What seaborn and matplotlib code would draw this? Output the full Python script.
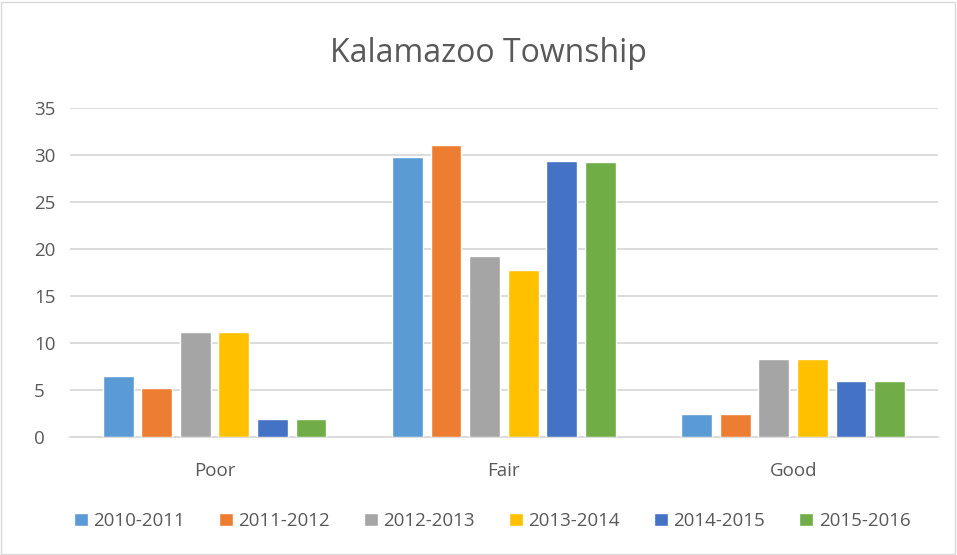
# plot.py
# Kalamazoo Township condition counts by season (grouped bars)

import matplotlib.pyplot as plt
import seaborn as sns
import pandas as pd
from matplotlib.patches import Rectangle

categories = ["Poor", "Fair", "Good"]
seasons = ["2010-2011", "2011-2012", "2012-2013", "2013-2014", "2014-2015", "2015-2016"]
v_2010_2011 = [6.5, 29.8, 2.4]
v_2011_2012 = [5.2, 31.1, 2.4]
v_2012_2013 = [11.2, 19.3, 8.3]
v_2013_2014 = [11.2, 17.8, 8.3]
v_2014_2015 = [1.9, 29.4, 6.0]
v_2015_2016 = [1.9, 29.3, 6.0]
colors = ["#5B9BD5", "#ED7D31", "#A5A5A5", "#FFC000", "#4472C4", "#70AD47"]

series = [v_2010_2011, v_2011_2012, v_2012_2013, v_2013_2014, v_2014_2015, v_2015_2016]
rows = []
for season, vals in zip(seasons, series):
    for cat, v in zip(categories, vals):
        rows.append({"Condition": cat, "Season": season, "Value": v})
df = pd.DataFrame(rows)

sns.set_theme(style="white")
plt.rcParams["font.family"] = ["Open Sans", "DejaVu Sans"]
text_color = "#595959"

fig = plt.figure(figsize=(9.57, 5.55), dpi=100)
ax = fig.add_axes([0.0731, 0.2126, 0.9069, 0.5928])

sns.barplot(data=df, x="Condition", y="Value", hue="Season", order=categories,
            hue_order=seasons, palette=colors, width=0.8, gap=0.2,
            saturation=1, ax=ax, zorder=3)

ax.set_ylim(0, 35)
ax.set_xlim(-0.5, 2.5)
ax.set_yticks(range(0, 36, 5))
ax.yaxis.grid(True, color="#D9D9D9", linewidth=1.3, zorder=0)
ax.set_axisbelow(True)
for side in ["top", "right", "left"]:
    ax.spines[side].set_visible(False)
ax.spines["bottom"].set_color("#D9D9D9")
ax.spines["bottom"].set_linewidth(1.3)
ax.tick_params(axis="both", length=0, colors=text_color, labelsize=13.5)
ax.tick_params(axis="x", pad=18)
ax.tick_params(axis="y", pad=26)
for lbl in ax.get_yticklabels():
    lbl.set_horizontalalignment("left")
ax.set_xlabel("")
ax.set_ylabel("")

fig.text(488 / 957, 1 - 53 / 555, "Kalamazoo Township", ha="center", va="center",
         fontsize=23, color=text_color)

ax.legend(loc="center", ncol=6, frameon=False, fontsize=13.5, handlelength=0.75,
          handleheight=0.75, handletextpad=0.3, columnspacing=1.8,
          labelcolor=text_color)
leg = ax.get_legend()
leg.set_bbox_to_anchor((492 / 957, 1 - 521 / 555), transform=fig.transFigure)

fig.patches.append(Rectangle((0.001, 0.002), 0.997, 0.995, transform=fig.transFigure,
                             fill=False, edgecolor="#D9D9D9", linewidth=1))

fig.savefig("out.png", dpi=100)
